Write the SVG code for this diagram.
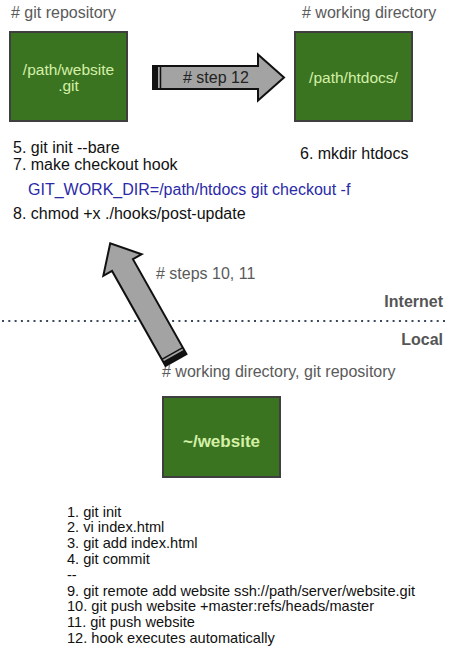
<svg xmlns="http://www.w3.org/2000/svg" width="452" height="667" viewBox="0 0 452 667">
<style>
text{font-family:"Liberation Sans",Arial,sans-serif}
.hdr{font-size:16px;fill:#5a5a5a}
.box{fill:#3b7420;stroke:#3f3f3f;stroke-width:2}
.lbl{font-size:15.5px;fill:#d4f0a8;text-anchor:middle}
.cmd{font-size:16px;fill:#111}
.blue{font-size:16px;fill:#2a2aa8}
.small{font-size:14.6px;fill:#111}
.arrow{fill:#a3a3a3;stroke:#111;stroke-width:2;stroke-linejoin:miter}
.zone{font-size:16px;font-weight:bold;fill:#555;text-anchor:end}
</style>
<rect width="452" height="667" fill="#fff"/>

<g id="node-repo">
  <text class="hdr" x="11" y="18">#&#160;git repository</text>
  <rect class="box" x="10" y="32" width="117" height="89"/>
  <text class="lbl" x="68.5" y="75">/path/website</text>
  <text class="lbl" x="68.5" y="91">.git</text>
  <text class="cmd" x="13" y="153">5. git init --bare</text>
  <text class="cmd" x="13" y="170">7. make checkout hook</text>
  <text class="blue" x="28" y="195">GIT_WORK_DIR=/path/htdocs git checkout -f</text>
  <text class="cmd" x="13" y="219">8. chmod +x ./hooks/post-update</text>
</g>

<g id="node-htdocs">
  <text class="hdr" x="302" y="18">#&#160;working directory</text>
  <rect class="box" x="295" y="32" width="117" height="89"/>
  <text class="lbl" x="353.5" y="83">/path/htdocs/</text>
  <text class="cmd" x="300" y="159">6. mkdir htdocs</text>
</g>

<g id="node-website">
  <text class="hdr" x="162" y="377">#&#160;working directory, git repository</text>
  <rect class="box" x="163" y="397" width="117" height="80"/>
  <text class="lbl" x="221.5" y="447" style="font-size:17px;font-weight:bold">~/website</text>
  <g class="small">
    <text x="67" y="516.5">1. git init</text>
    <text x="67" y="532.3">2. vi index.html</text>
    <text x="67" y="548.1">3. git add index.html</text>
    <text x="67" y="563.9">4. git commit</text>
    <text x="67" y="579.7">--</text>
    <text x="67" y="595.5">9. git remote add website ssh://path/server/website.git</text>
    <text x="67" y="611.3">10. git push website +master:refs/heads/master</text>
    <text x="67" y="627.1">11. git push website</text>
    <text x="67" y="642.9">12. hook executes automatically</text>
  </g>
</g>

<g id="boundary">
  <line x1="2" y1="321" x2="446" y2="321" stroke="#3a4a5e" stroke-width="2" stroke-dasharray="2 4.3"/>
  <text class="zone" x="443" y="307">Internet</text>
  <text class="zone" x="443" y="345">Local</text>
</g>

<g id="connectors">
  <g id="arrow-step12" transform="translate(153,77.5)">
    <polygon class="arrow" points="0,-11.5 105,-11.5 105,-23 131,0 105,23 105,11.5 0,11.5"/>
    <rect x="0" y="-11.5" width="5" height="23" fill="#111"/>
    <line x1="7.5" y1="-11.5" x2="7.5" y2="11.5" stroke="#111" stroke-width="1.5"/>
    <text class="hdr" x="30" y="5" style="fill:#222">#&#160;step 12</text>
  </g>
  <g id="arrow-steps10-11" transform="translate(176,360) rotate(-119.4)">
    <polygon class="arrow" points="0,-12 109,-12 109,-22 134,0 109,22 109,12 0,12"/>
    <rect x="0" y="-12" width="5" height="24" fill="#111"/>
    <line x1="7.5" y1="-12" x2="7.5" y2="12" stroke="#111" stroke-width="1.5"/>
  </g>
  <text class="hdr" x="156" y="279">#&#160;steps 10, 11</text>
</g>
</svg>
